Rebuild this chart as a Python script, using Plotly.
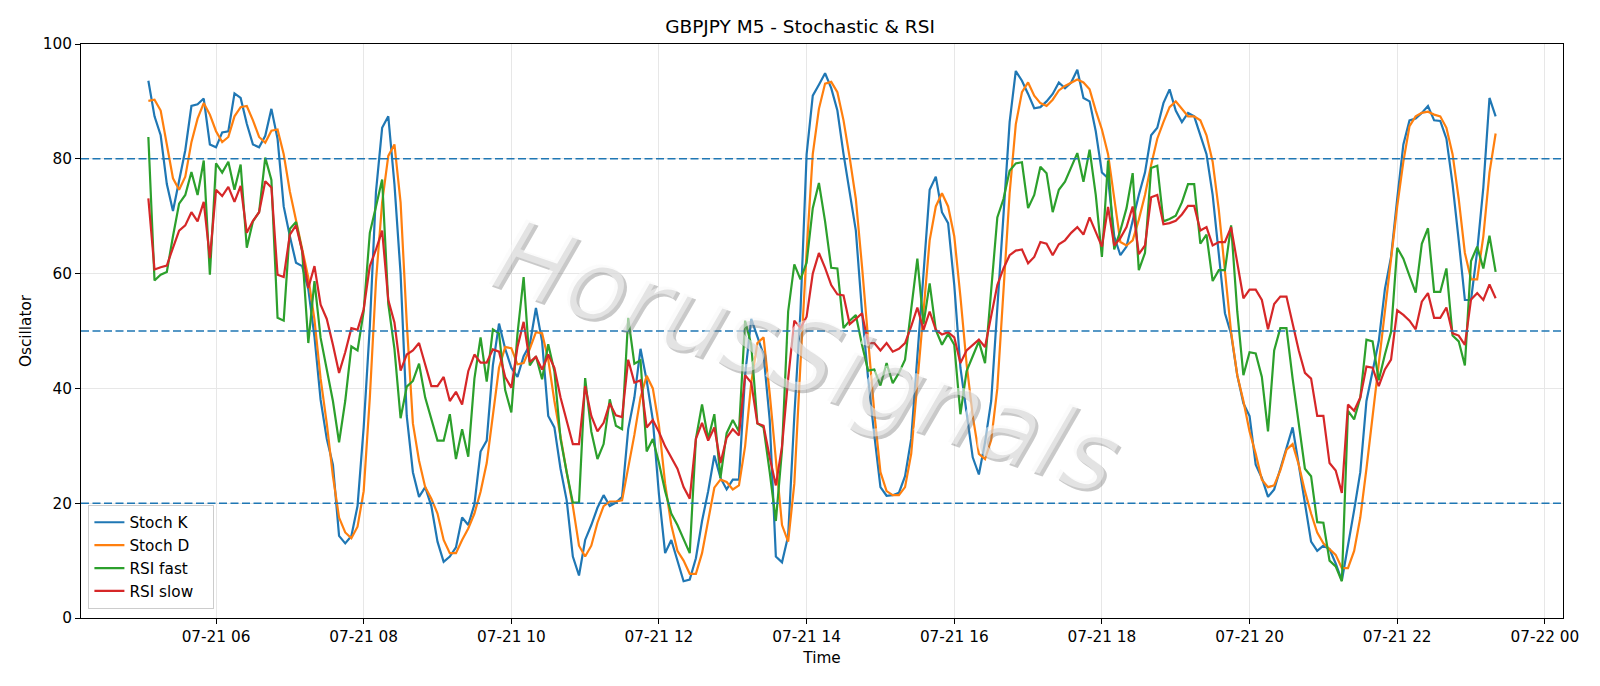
import pandas as pd
import plotly.graph_objects as go

start_time = "2025-07-21 05:05"
step = "5min"

stoch_k = [93.6, 87.4, 84.1, 75.6, 70.9, 76.3, 81.5, 89.2, 89.5, 90.5,
 82.5, 82.0, 84.6, 84.8, 91.4, 90.6, 86.1, 82.5, 82.0, 84.0,
 88.7, 83.5, 71.7, 66.5, 61.9, 61.3, 57.3, 49.0, 38.0, 31.2,
 26.7, 14.3, 13.0, 14.3, 19.5, 33.2, 50.8, 74.3, 85.4, 87.4,
 75.6, 60.0, 35.2, 25.4, 21.1, 22.8, 19.5, 13.3, 9.8, 10.7,
 12.3, 17.5, 16.2, 19.8, 29.0, 30.9, 44.0, 51.3, 46.9, 43.6,
 42.0, 45.6, 47.6, 54.0, 48.2, 35.2, 33.2, 26.0, 20.5, 10.7,
 7.4, 13.6, 16.2, 19.2, 21.4, 19.5, 20.1, 21.1, 32.9, 38.4,
 46.9, 41.4, 34.5, 21.5, 11.3, 13.6, 10.0, 6.4, 6.7, 10.4,
 16.9, 22.1, 28.3, 24.4, 22.4, 24.1, 24.1, 42.3, 52.1, 48.9,
 45.9, 34.5, 10.7, 9.7, 14.3, 35.2, 53.4, 80.8, 91.0, 92.9,
 94.9, 92.3, 88.4, 80.8, 74.3, 67.5, 53.4, 41.7, 31.9, 22.8,
 21.3, 21.4, 21.8, 24.7, 31.2, 45.0, 60.0, 74.6, 76.9, 70.7,
 68.8, 58.0, 43.6, 35.8, 28.0, 25.0, 30.6, 37.8, 54.0, 71.0,
 86.4, 95.3, 93.6, 91.3, 88.8, 89.0, 90.0, 91.3, 93.3, 92.3,
 93.3, 95.5, 90.6, 90.0, 84.8, 77.6, 76.6, 66.5, 63.2, 64.7,
 69.4, 73.7, 77.6, 84.1, 85.4, 89.7, 92.1, 88.4, 86.4, 88.0,
 87.4, 84.1, 80.8, 73.7, 63.9, 53.1, 49.5, 42.3, 37.4, 35.2,
 26.7, 24.4, 21.1, 22.4, 26.0, 29.6, 33.2, 26.7, 20.1, 13.3,
 11.7, 12.6, 12.0, 9.5, 6.5, 12.3, 18.8, 25.4, 37.8, 43.0,
 48.2, 57.3, 62.9, 73.0, 82.5, 86.7, 87.0, 88.0, 89.2, 86.7,
 86.6, 83.5, 75.6, 65.8, 55.4, 55.4, 63.9, 75.0, 90.6, 87.4]

stoch_d = [90.1, 90.3, 88.4, 82.8, 76.6, 74.6, 76.9, 82.9, 87.0, 89.7,
 87.7, 84.8, 82.9, 83.8, 87.4, 89.0, 89.2, 86.7, 83.8, 82.8,
 84.9, 85.1, 80.8, 74.3, 69.1, 63.9, 59.3, 52.0, 41.7, 33.9,
 24.7, 17.5, 14.9, 13.9, 15.9, 22.1, 38.4, 58.7, 72.4, 80.5,
 82.5, 72.4, 51.5, 33.9, 27.4, 22.8, 20.8, 18.2, 13.6, 11.3,
 11.3, 13.6, 15.6, 18.2, 22.0, 27.0, 35.2, 43.6, 47.2, 47.0,
 44.2, 44.4, 46.9, 49.8, 49.6, 45.0, 37.8, 31.2, 25.4, 19.5,
 12.6, 10.7, 12.6, 16.6, 19.5, 20.3, 20.3, 20.5, 26.0, 31.9,
 38.4, 42.2, 40.0, 33.5, 23.4, 16.2, 11.7, 10.0, 7.7, 7.7,
 11.3, 16.9, 22.7, 24.1, 23.7, 22.4, 23.1, 29.9, 41.0, 47.9,
 48.9, 39.1, 27.3, 16.2, 13.3, 23.4, 44.3, 63.9, 80.8, 88.7,
 93.1, 93.4, 91.6, 86.7, 80.2, 73.0, 61.3, 48.2, 35.8, 25.4,
 22.1, 21.4, 21.4, 22.8, 28.6, 41.0, 52.8, 65.8, 71.7, 74.0,
 71.7, 66.5, 56.0, 44.3, 35.2, 28.6, 27.7, 31.0, 40.0, 57.0,
 74.0, 86.0, 91.6, 93.3, 91.0, 89.7, 89.2, 90.3, 91.9, 92.7,
 93.3, 93.8, 93.3, 92.1, 88.4, 85.1, 80.8, 73.0, 65.5, 64.9,
 65.8, 69.4, 73.7, 78.9, 83.5, 86.4, 89.0, 90.0, 88.7, 87.4,
 87.4, 86.7, 84.1, 79.5, 71.1, 60.0, 49.8, 42.3, 37.8, 32.5,
 28.6, 24.1, 22.8, 23.1, 25.7, 29.3, 30.3, 26.7, 22.1, 18.2,
 14.9, 13.0, 12.0, 11.0, 8.7, 8.7, 11.7, 17.5, 26.0, 35.2,
 43.6, 52.8, 62.6, 71.7, 79.5, 85.7, 87.4, 88.0, 88.2, 87.7,
 87.4, 85.4, 80.8, 73.0, 63.6, 59.0, 59.0, 66.5, 77.6, 84.4]

rsi_fast = [83.8, 58.8, 59.8, 60.3, 66.5, 72.2, 73.7, 77.7, 73.7, 79.7,
 59.8, 79.2, 77.6, 79.5, 74.6, 79.0, 64.5, 69.1, 70.7, 80.2,
 76.3, 52.3, 51.8, 67.8, 69.0, 63.9, 47.9, 58.7, 48.8, 43.0,
 37.8, 30.6, 37.8, 47.3, 46.6, 53.4, 67.1, 71.7, 76.4, 54.7,
 46.9, 34.8, 40.3, 41.3, 44.3, 38.4, 34.5, 30.9, 30.9, 35.5,
 27.7, 32.9, 28.1, 41.7, 48.9, 41.2, 50.3, 49.6, 39.7, 35.8,
 49.5, 59.4, 44.0, 45.6, 41.6, 47.7, 43.0, 31.2, 25.4, 20.1,
 20.1, 41.8, 32.5, 27.7, 30.3, 38.1, 33.5, 32.9, 52.3, 44.3,
 44.9, 29.0, 31.2, 27.0, 22.1, 18.2, 16.2, 13.6, 11.3, 31.2,
 37.2, 31.2, 35.5, 24.4, 32.2, 34.5, 32.5, 51.8, 47.6, 33.9,
 33.2, 25.4, 16.9, 29.3, 53.4, 61.6, 59.0, 61.9, 71.4, 75.8,
 69.1, 61.0, 60.9, 50.5, 51.8, 52.8, 47.6, 43.1, 43.3, 40.5,
 44.4, 40.9, 42.7, 45.0, 53.4, 62.6, 51.2, 58.3, 50.2, 47.6,
 49.5, 47.6, 35.5, 43.0, 45.6, 48.2, 44.4, 57.3, 69.8, 73.0,
 77.9, 79.2, 79.4, 71.4, 73.7, 78.6, 77.5, 70.7, 74.6, 76.0,
 78.4, 81.0, 76.0, 81.6, 73.7, 62.9, 79.7, 64.2, 67.5, 71.4,
 77.5, 60.6, 63.6, 78.4, 78.8, 69.1, 69.5, 70.1, 72.4, 75.6,
 75.6, 65.2, 66.8, 58.7, 60.6, 60.6, 68.4, 53.4, 42.3, 46.3,
 46.1, 42.0, 32.5, 46.6, 50.5, 50.5, 41.7, 33.5, 26.0, 24.7,
 16.7, 16.6, 10.0, 9.0, 6.4, 36.1, 34.6, 38.4, 48.5, 48.2,
 41.4, 45.9, 49.8, 64.5, 62.6, 59.6, 56.7, 65.2, 67.9, 56.8,
 56.8, 60.9, 49.2, 48.2, 44.0, 62.2, 64.7, 60.9, 66.6, 60.3]

rsi_slow = [73.1, 60.7, 61.1, 61.4, 64.5, 67.5, 68.4, 70.7, 69.1, 72.5,
 62.7, 74.6, 73.5, 75.1, 72.5, 75.3, 67.1, 69.2, 70.7, 76.1,
 75.0, 59.8, 59.4, 66.8, 68.4, 64.0, 57.5, 61.3, 54.6, 52.1,
 47.6, 42.7, 46.3, 50.5, 50.2, 53.8, 61.3, 64.2, 67.5, 55.4,
 51.5, 43.1, 45.9, 46.6, 47.9, 44.3, 40.4, 40.4, 42.0, 37.8,
 39.4, 37.2, 43.0, 45.9, 44.5, 44.5, 46.8, 46.4, 42.0, 40.1,
 47.2, 51.6, 44.6, 45.5, 43.3, 45.9, 43.6, 38.4, 34.5, 30.3,
 30.3, 40.4, 35.2, 32.5, 34.0, 37.4, 35.3, 35.0, 45.0, 41.0,
 41.4, 33.2, 34.5, 32.4, 29.9, 27.9, 26.0, 22.8, 20.8, 31.2,
 34.0, 30.9, 33.2, 27.0, 31.4, 32.9, 31.8, 42.3, 41.0, 33.9,
 33.5, 28.0, 23.1, 29.9, 41.7, 51.8, 50.5, 52.5, 60.0, 63.6,
 61.0, 58.0, 56.4, 56.2, 51.2, 52.1, 53.1, 47.9, 47.9, 46.6,
 47.9, 46.4, 46.9, 47.9, 50.8, 54.1, 50.2, 53.4, 50.2, 49.4,
 49.8, 48.9, 44.4, 46.6, 47.6, 48.5, 47.2, 52.5, 58.0, 60.9,
 63.2, 64.0, 64.2, 61.8, 62.9, 65.5, 65.2, 63.2, 65.1, 65.8,
 67.1, 68.1, 66.8, 69.8, 67.1, 64.7, 71.6, 64.9, 66.2, 68.1,
 71.7, 63.4, 64.9, 73.3, 73.7, 68.6, 68.8, 69.2, 70.3, 71.8,
 71.8, 67.5, 68.1, 64.9, 65.5, 65.5, 68.1, 61.9, 55.7, 57.2,
 57.2, 55.4, 50.3, 54.7, 56.0, 56.0, 51.5, 46.6, 42.7, 41.7,
 35.2, 35.2, 27.0, 25.7, 21.8, 37.2, 36.1, 38.4, 43.8, 43.6,
 40.4, 43.3, 45.0, 53.6, 52.8, 51.8, 50.3, 55.1, 56.6, 52.3,
 52.3, 54.1, 49.6, 49.2, 47.6, 55.5, 56.6, 55.4, 58.1, 55.7]

series_names = ["Stoch K", "Stoch D", "RSI fast", "RSI slow"]
series_colors = ["#1f77b4", "#ff7f0e", "#2ca02c", "#d62728"]
levels = [20, 50, 80]

x_tick_times = ["2025-07-21 06:00", "2025-07-21 08:00", "2025-07-21 10:00", "2025-07-21 12:00",
                "2025-07-21 14:00", "2025-07-21 16:00", "2025-07-21 18:00", "2025-07-21 20:00",
                "2025-07-21 22:00", "2025-07-22 00:00"]
x_tick_labels = ["07-21 06", "07-21 08", "07-21 10", "07-21 12", "07-21 14",
                 "07-21 16", "07-21 18", "07-21 20", "07-21 22", "07-22 00"]
y_ticks = [0, 20, 40, 60, 80, 100]

times = pd.date_range(start_time, periods=len(stoch_k), freq=step)
span = times[-1] - times[0]
x_range = [times[0] - span * 0.05, times[-1] + span * 0.05]

FONT = "DejaVu Sans"
fig = go.Figure()
for name, vals, col in zip(series_names, [stoch_k, stoch_d, rsi_fast, rsi_slow], series_colors):
    fig.add_trace(go.Scatter(x=times, y=vals, mode="lines", name=name + "   ",
                             line=dict(color=col, width=2.2)))

for lv in levels:
    fig.add_shape(type="line", xref="paper", x0=0, x1=1, yref="y", y0=lv, y1=lv,
                  line=dict(color="#1f77b4", width=1.5, dash="8px,3.5px"), layer="above")

# watermark
fig.add_annotation(text="HorusSignals", xref="paper", yref="paper", x=0.489, y=0.455,
                   xshift=3, yshift=-3, showarrow=False, textangle=19,
                   font=dict(family=FONT, size=100, color="rgba(120,120,120,0.4)", style="italic"))
fig.add_annotation(text="HorusSignals", xref="paper", yref="paper", x=0.489, y=0.455,
                   showarrow=False, textangle=19,
                   font=dict(family=FONT, size=100, color="rgba(248,248,248,0.55)", style="italic"))

axis_common = dict(showline=True, linecolor="black", linewidth=1.1, mirror=True,
                   ticks="outside", ticklen=5, tickwidth=1.1, tickcolor="black",
                   showgrid=True, gridcolor="#e7e7e7", gridwidth=1.2, zeroline=False,
                   tickfont=dict(family=FONT, size=15.3, color="black"))

fig.update_layout(
    width=1600, height=686,
    paper_bgcolor="white", plot_bgcolor="white",
    margin=dict(l=81, r=37, t=43.5, b=67.5, autoexpand=False),
    title=dict(text="GBPJPY M5 - Stochastic & RSI", x=0.5, xanchor="center",
               y=1 - 26.5 / 686, yanchor="middle",
               font=dict(family=FONT, size=18.5, color="black")),
    xaxis=dict(range=x_range, tickvals=x_tick_times, ticktext=x_tick_labels,
               title=dict(text="Time", font=dict(family=FONT, size=15.3, color="black"), standoff=6),
               **axis_common),
    yaxis=dict(range=[0, 100], tickvals=y_ticks, ticktext=[str(v) for v in y_ticks],
               title=dict(text="Oscillator", font=dict(family=FONT, size=15.3, color="black"), standoff=7),
               **axis_common),
    legend=dict(x=0.005, y=0.016, xanchor="left", yanchor="bottom",
                bgcolor="rgba(255,255,255,0.8)", bordercolor="#cccccc", borderwidth=1,
                font=dict(family=FONT, size=15.3, color="black"), itemwidth=30,
                tracegroupgap=0),
    showlegend=True,
)

fig.write_html("out.html")
